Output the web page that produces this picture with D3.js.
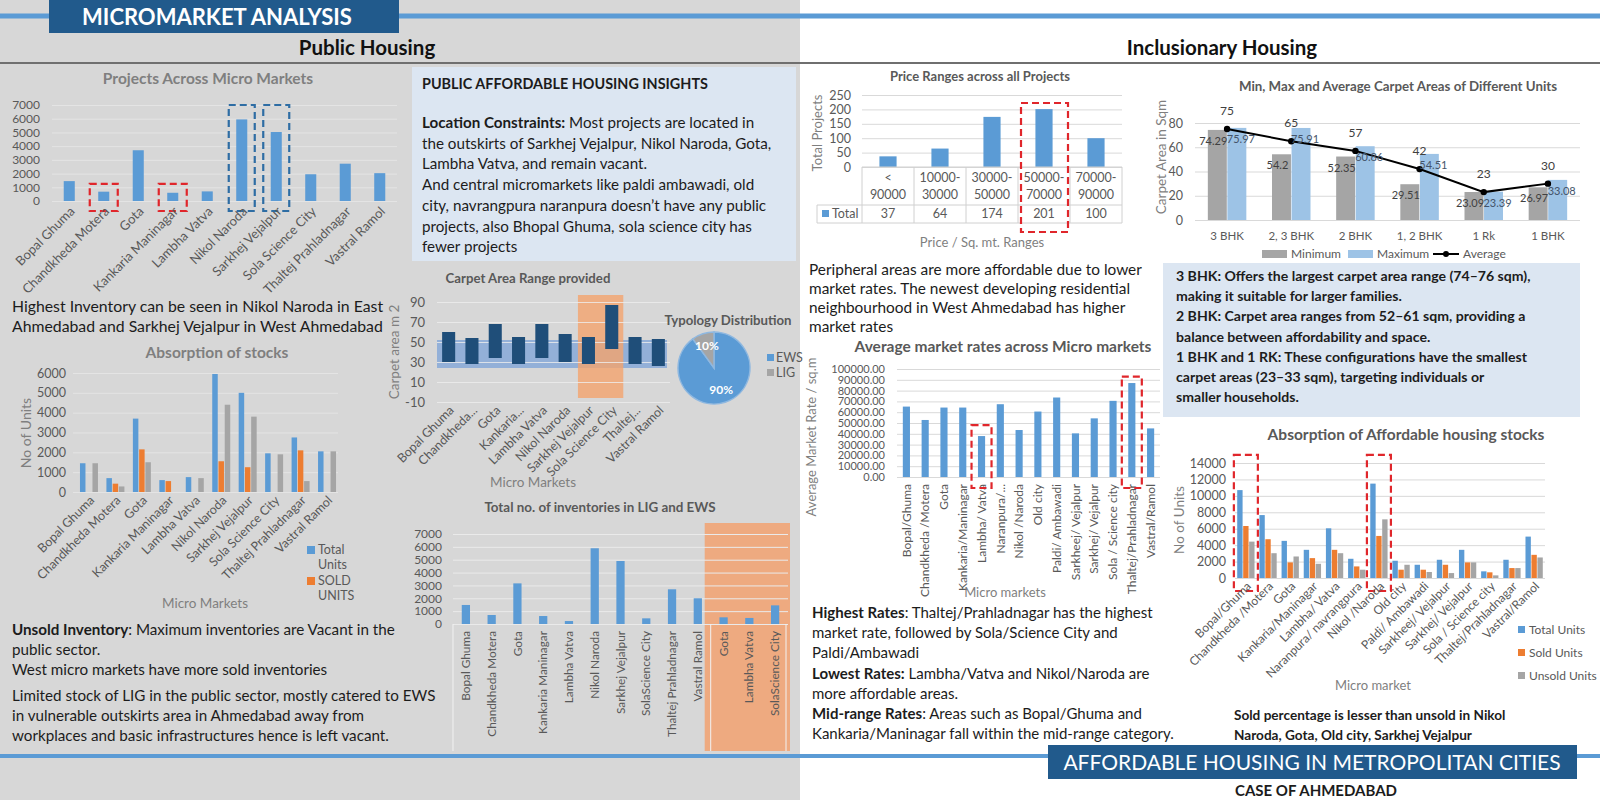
<!DOCTYPE html>
<html><head><meta charset="utf-8">
<script src="https://cdn.jsdelivr.net/npm/d3@7"></script>
<style>body{margin:0;background:#fff}svg{display:block}</style>
</head><body><svg id="c" width="1600" height="800"></svg>
<script>
// ---------------- DATA ----------------
const publicMarkets = ["Bopal Ghuma","Chandkheda  Motera","Gota","Kankaria Maninagar","Lambha Vatva","Nikol Naroda","Sarkhej Vejalpur","Sola Science City","Thaltej Prahladnagar","Vastral Ramol"];
const projectUnits = [1450,680,3700,600,700,5950,5030,1950,2720,2030];
const projectTicks = [0,1000,2000,3000,4000,5000,6000,7000];
const lowProjectMarkets = ["Chandkheda  Motera","Kankaria Maninagar"];
const highProjectMarkets = ["Nikol Naroda","Sarkhej Vejalpur"];

const stockTotal  = [1450,700,3700,600,750,5950,5000,1950,2750,2050];
const stockSold   = [0,420,2150,550,0,1550,1250,0,2100,0];
const stockUnsold = [1450,280,1500,0,700,4400,3800,1900,550,2050];
const stockTicks = [0,1000,2000,3000,4000,5000,6000];

const carpetMarkets = ["Bopal Ghuma","Chandkheda...","Gota","Kankaria...","Lambha Vatva","Nikol Naroda","Sarkhej Vejalpur","Sola Science City","Thaltej...","Vastral Ramol"];
const carpetMin = [30,28,34,28,34,30,28,43,28,26];
const carpetMax = [60,54,68,55,68,58,55,87,55,53];
const carpetTicks = [-10,10,30,50,70,90];
const carpetBand = [24,52];
const carpetHighlight = ["Sarkhej Vejalpur","Sola Science City"];

const typology = ["EWS","LIG"];
const typologyShare = [90,10];

const invMarkets = ["Bopal Ghuma","Chandkheda  Motera","Gota","Kankaria Maninagar","Lambha Vatva","Nikol Naroda","Sarkhej Vejalpur","SolaScience City","Thaltej Prahladnagar","Vastral Ramol","Gota","Lambha Vatva","SolaScience City"];
const invUnits = [1480,700,3160,620,230,5890,4900,440,2700,2000,520,470,1450];
const invTicks = [0,1000,2000,3000,4000,5000,6000,7000];
const invGroupSizes = [10,3];

const priceRanges = [["<","90000"],["10000-","30000"],["30000-","50000"],["50000-","70000"],["70000-","90000"]];
const priceProjects = [37,64,174,201,100];
const priceTicks = [0,50,100,150,200,250];
const priceHighlight = 3;

const unitTypes = ["3 BHK","2, 3 BHK","2 BHK","1, 2 BHK","1 Rk","1 BHK"];
const unitMin = [74.29,54.2,52.35,29.51,23.09,26.97];
const unitMax = [75.97,75.91,60.86,54.51,23.39,33.08];
const unitAvg = [75,65,57,42,23,30];
const unitTicks = [0,20,40,60,80];

const rateMarkets = ["Bopal/Ghuma","Chandkheda /Motera","Gota","Kankaria/Maninagar","Lambha/ Vatva","Naranpura/...","Nikol /Naroda","Old city","Paldi/ Ambawadi","Sarkheej/ Vejalpur","Sarkhej/ Vejalpur","Sola / Science city","Thaltej/Prahladnagar","Vastral/Ramol"];
const rateValues = [65200,52800,64300,64300,37900,67400,43500,60600,73600,40400,54300,70500,87000,45000];
const rateTicks = [0,10000,20000,30000,40000,50000,60000,70000,80000,90000,100000];
const rateHighlight = ["Lambha/ Vatva","Thaltej/Prahladnagar"];

const affMarkets = ["Bopal/Ghuma","Chandkheda /Motera","Gota","Kankaria/Maninagar","Lambha/ Vatva","Naranpura/ navrangpura","Nikol /Naroda","Old city","Paldi/ Ambawadi","Sarkheej/ Vejalpur","Sarkhej/ Vejalpur","Sola / Science city","Thaltej/Prahladnagar","Vastral/Ramol"];
const affTotal  = [10700,7660,4520,3430,6050,2340,11490,2100,1610,2220,3430,810,2220,5040];
const affSold   = [6330,4720,1900,2420,3430,1410,5120,1010,1010,1610,1900,690,1210,2820];
const affUnsold = [4430,3020,2620,1730,3020,1010,7140,1610,730,600,1900,320,1210,2500];
const affTicks = [0,2000,4000,6000,8000,10000,12000,14000];
const affHighlight = ["Bopal/Ghuma","Nikol /Naroda"];

// ---------------- STYLE ----------------
const FONT = "Lato, 'Noto Sans', sans-serif";
const BLUE="#5b9bd5", ORANGE="#ed7d31", GRAY="#a5a5a5", NAVY="#1f4e79", TXT="#595959", DARK="#1c1c1c";
const RED="#e0262b", DBLUE="#2e6da4";
const svg = d3.select("#c").attr("font-family", FONT);

function addText(x, y, s, o={}) {
  return svg.append("text").attr("x",x).attr("y",y).text(s)
    .attr("font-size",o.size||12).attr("font-weight",o.weight||"normal")
    .attr("fill",o.fill||TXT).attr("text-anchor",o.anchor||"start");
}
function addRich(x, y, lh, lines, size, fill) {
  lines.forEach((segs,i)=>{
    const t = svg.append("text").attr("x",x).attr("y",y+i*lh).attr("font-size",size).attr("fill",fill||DARK);
    segs.forEach(s=>t.append("tspan").attr("font-weight", s.b?"bold":"normal").text(s.t));
  });
}
function yAxisGrid(scale, ticks, x0, x1, labelRight, fmt, size, gridColor) {
  const g = svg.append("g").attr("transform",`translate(${x0},0)`)
    .call(d3.axisLeft(scale).tickValues(ticks).tickSize(-(x1-x0)).tickPadding(x0-labelRight).tickFormat(fmt));
  g.attr("font-family",FONT).attr("font-size",size);
  g.select(".domain").remove();
  g.selectAll(".tick line").attr("stroke",gridColor);
  g.selectAll(".tick text").attr("fill",TXT);
  return g;
}
function rotLabels(items, xf, y, angle, size, dx, clipId) {
  const g = svg.append("g");
  if (clipId) g.attr("clip-path",`url(#${clipId})`);
  g.selectAll("text").data(items).join("text")
    .attr("transform",(d,i)=>`translate(${xf(d,i)+dx},${y}) rotate(${angle})`)
    .attr("text-anchor","end").attr("dy","0.35em").attr("font-size",size).attr("fill",TXT)
    .text(d=>d);
  return g;
}
function rotTitle(x, y, s, size) {
  svg.append("text").attr("transform",`translate(${x},${y}) rotate(-90)`).attr("text-anchor","middle")
    .attr("font-size",size).attr("fill","#7f7f7f").text(s);
}
function dashBox(x0,x1,y0,y1,color) {
  svg.append("rect").attr("x",x0).attr("y",y0).attr("width",x1-x0).attr("height",y1-y0)
    .attr("fill","none").attr("stroke",color).attr("stroke-width",2.2).attr("stroke-dasharray","7,4");
}

// ---------------- BACKGROUND / FRAME ----------------
svg.append("rect").attr("width",1600).attr("height",800).attr("fill","#ffffff");
svg.append("rect").attr("width",800).attr("height",800).attr("fill","#d7d7d7");
svg.append("line").attr("x1",0).attr("x2",1600).attr("y1",16).attr("y2",16).attr("stroke",BLUE).attr("stroke-width",5);
svg.append("rect").attr("x",49).attr("y",0).attr("width",350).attr("height",33).attr("fill","#215a8c");
addText(217,25,"MICROMARKET ANALYSIS",{size:22,weight:"bold",fill:"#fff",anchor:"middle"});
svg.append("line").attr("x1",0).attr("x2",1600).attr("y1",63).attr("y2",63).attr("stroke","#6f6f6f").attr("stroke-width",2);
addText(367,55,"Public Housing",{size:20.5,weight:"bold",fill:"#111",anchor:"middle"});
addText(1222,55,"Inclusionary Housing",{size:20.5,weight:"bold",fill:"#111",anchor:"middle"});

// ---------------- Projects Across Micro Markets ----------------
{
  const x = d3.scaleBand().domain(publicMarkets).range([52,397]).paddingInner(0.68).paddingOuter(0.34);
  const y = d3.scaleLinear().domain([0,7000]).range([201,105]);
  addText(208,84,"Projects Across Micro Markets",{size:15.5,weight:"bold",fill:"#7f7f7f",anchor:"middle"});
  yAxisGrid(y, projectTicks, 52, 397, 40, d=>d, 12, "#e4e4e4");
  svg.append("g").selectAll("rect").data(projectUnits).join("rect")
    .attr("x",(d,i)=>x(publicMarkets[i])).attr("width",x.bandwidth())
    .attr("y",d=>y(d)).attr("height",d=>y(0)-y(d)).attr("fill",BLUE);
  lowProjectMarkets.forEach(m=>{const c=x(m)+x.bandwidth()/2; dashBox(c-14,c+14,y(1250),y(0)+10,RED);});
  highProjectMarkets.forEach(m=>{const c=x(m)+x.bandwidth()/2; dashBox(c-13,c+13,y(7000),y(0)+10,DBLUE);});
  rotLabels(publicMarkets,d=>x(d)+x.bandwidth()/2,209,-45,13,3);
}

// ---------------- Left text 1 ----------------
addRich(12,312,19.5,[[{t:"Highest Inventory can be seen in Nikol Naroda in East"}],[{t:"Ahmedabad and Sarkhej Vejalpur in West Ahmedabad"}]],15.8);

// ---------------- Absorption of stocks ----------------
{
  const x = d3.scaleBand().domain(publicMarkets).range([76,340]).paddingInner(0.32).paddingOuter(0.15);
  const xs = d3.scaleBand().domain([0,1,2]).range([0,x.bandwidth()]).paddingInner(0.12);
  const y = d3.scaleLinear().domain([0,6000]).range([492,373]);
  addText(217,358,"Absorption of stocks",{size:15.5,weight:"bold",fill:"#7f7f7f",anchor:"middle"});
  yAxisGrid(y, stockTicks, 73, 338, 66, d=>d, 12.5, "#e4e4e4");
  rotTitle(31,433,"No of Units",14);
  const series=[stockTotal,stockSold,stockUnsold], cols=[BLUE,ORANGE,GRAY];
  series.forEach((s,k)=>{
    svg.append("g").selectAll("rect").data(s).join("rect")
      .attr("x",(d,i)=>x(publicMarkets[i])+xs(k)).attr("width",xs.bandwidth())
      .attr("y",d=>y(d)).attr("height",d=>y(0)-y(d)).attr("fill",cols[k]);
  });
  rotLabels(publicMarkets,d=>x(d)+x.bandwidth()/2,498,-45,12.5,3);
  addText(205,608,"Micro Markets",{size:13.5,fill:"#7f7f7f",anchor:"middle"});
  const lg=[["Total","Units",BLUE],["SOLD","UNITS",ORANGE]];
  lg.forEach((l,i)=>{
    svg.append("rect").attr("x",307).attr("y",546+i*31).attr("width",8).attr("height",8).attr("fill",l[2]);
    addText(318,554+i*31,l[0],{size:12.5});
    addText(318,569+i*31,l[1],{size:12.5});
  });
}

// ---------------- Left text 2 ----------------
addRich(12,635,20,[
  [{t:"Unsold Inventory",b:true},{t:": Maximum  inventories are Vacant in the"}],
  [{t:"public sector."}],
  [{t:"West micro markets have more sold inventories"}]],15.2);
addRich(12,701,20,[
  [{t:"Limited stock of LIG in the public sector, mostly catered to EWS"}],
  [{t:"in vulnerable outskirts area in Ahmedabad away from"}],
  [{t:"workplaces and basic infrastructures hence is left vacant."}]],15.2);

// ---------------- Insights box ----------------
svg.append("rect").attr("x",412).attr("y",67).attr("width",384).attr("height",194).attr("fill","#dce6f2");
addText(422,89,"PUBLIC AFFORDABLE HOUSING INSIGHTS",{size:14.4,weight:"bold",fill:DARK});
addRich(422,128,20.7,[
  [{t:"Location Constraints:",b:true},{t:" Most projects are located in"}],
  [{t:"the outskirts of Sarkhej Vejalpur, Nikol Naroda, Gota,"}],
  [{t:"Lambha Vatva, and remain vacant."}],
  [{t:"And central micromarkets like paldi ambawadi, old"}],
  [{t:"city, navrangpura naranpura doesn\u2019t have any public"}],
  [{t:"projects, also Bhopal Ghuma, sola science city has"}],
  [{t:"fewer projects"}]],15.2);

// ---------------- Carpet Area Range provided ----------------
{
  const x = d3.scaleBand().domain(carpetMarkets).range([437,670]).paddingInner(0.44).paddingOuter(0.22);
  const y = d3.scaleLinear().domain([-10,90]).range([402,302]);
  addText(528,283,"Carpet Area Range provided",{size:13.2,weight:"bold",fill:TXT,anchor:"middle"});
  svg.append("rect").attr("x",437).attr("width",230).attr("y",y(carpetBand[1])).attr("height",y(carpetBand[0])-y(carpetBand[1]))
    .attr("fill","#5b8fd8").attr("opacity",0.55);
  const hx0 = x(carpetHighlight[0]) - 4, hx1 = x(carpetHighlight[1]) + x.bandwidth() + 5;
  svg.append("rect").attr("x",hx0).attr("width",hx1-hx0).attr("y",y(97)).attr("height",y(-6)-y(97))
    .attr("fill","#f4a46e").attr("opacity",0.8);
  const ga = yAxisGrid(y, carpetTicks, 437, 670, 425, d=>d, 13, "#ededed");
  ga.selectAll(".tick line").attr("stroke-opacity",0.8);
  rotTitle(399,352,"Carpet area m 2",13.5);
  svg.append("g").selectAll("rect").data(carpetMin).join("rect")
    .attr("x",(d,i)=>x(carpetMarkets[i])).attr("width",x.bandwidth())
    .attr("y",(d,i)=>y(carpetMax[i])).attr("height",(d,i)=>y(d)-y(carpetMax[i])).attr("fill",NAVY);
  rotLabels(carpetMarkets,d=>x(d)+x.bandwidth()/2,408,-45,12.5,3);
  addText(533,487,"Micro Markets",{size:13.5,fill:"#7f7f7f",anchor:"middle"});
}

// ---------------- Typology Distribution ----------------
{
  addText(728,325,"Typology Distribution",{size:13.2,weight:"bold",fill:TXT,anchor:"middle"});
  const pie = d3.pie().sort(null).value(d=>d)(typologyShare);
  const arc = d3.arc().innerRadius(0).outerRadius(36);
  const lab = d3.arc().innerRadius(23).outerRadius(23);
  const g = svg.append("g").attr("transform","translate(714,368)");
  g.selectAll("path").data(pie).join("path").attr("d",arc).attr("fill",(d,i)=>[BLUE,GRAY][i])
    .attr("stroke","#8fb8e0").attr("stroke-width",1.5);
  g.selectAll("text").data(pie).join("text").attr("transform",d=>`translate(${lab.centroid(d)})`)
    .attr("text-anchor","middle").attr("dy","0.35em").attr("font-size",12).attr("font-weight","bold").attr("fill","#fff")
    .text(d=>d.data+"%");
  typology.forEach((t,i)=>{
    svg.append("rect").attr("x",767).attr("y",354+i*15).attr("width",7).attr("height",7).attr("fill",[BLUE,GRAY][i]);
    addText(776,362+i*15,t,{size:12.5});
  });
}

// ---------------- Total no. of inventories in LIG and EWS ----------------
{
  const idx = d3.range(invMarkets.length);
  const x = d3.scaleBand().domain(idx).range([453,788]).paddingInner(0.68).paddingOuter(0.34);
  const y = d3.scaleLinear().domain([0,7000]).range([624,534]);
  addText(600,512,"Total no. of inventories in LIG and EWS",{size:13.4,weight:"bold",fill:TXT,anchor:"middle"});
  const s2 = invGroupSizes[0];
  const hx0 = x(s2) - x.step()*x.paddingInner()/2 - 6;
  svg.append("rect").attr("x",hx0).attr("width",790-hx0).attr("y",523).attr("height",228).attr("fill","#eeaa80");
  yAxisGrid(y, invTicks, 453, 788, 442, d=>d, 12, "#eaeaea");
  const bx = [453, x(s2) - x.step()*x.paddingInner()/2, 786];
  bx.forEach(v=>svg.append("line").attr("x1",v).attr("x2",v).attr("y1",624).attr("y2",751).attr("stroke","#f2f2f2"));
  svg.append("g").selectAll("rect").data(invUnits).join("rect")
    .attr("x",(d,i)=>x(i)).attr("width",x.bandwidth())
    .attr("y",d=>y(d)).attr("height",d=>y(0)-y(d)).attr("fill",BLUE);
  rotLabels(invMarkets,(d,i)=>x(i)+x.bandwidth()/2,631,-90,11.8,0);
}

// ---------------- Price Ranges across all Projects ----------------
{
  const idx = d3.range(priceProjects.length);
  const x = d3.scaleBand().domain(idx).range([862,1122]).paddingInner(0.67).paddingOuter(0.335);
  const y = d3.scaleLinear().domain([0,250]).range([167,95]);
  addText(980,81,"Price Ranges across all Projects",{size:13,weight:"bold",fill:TXT,anchor:"middle"});
  yAxisGrid(y, priceTicks, 862, 1122, 851, d=>d, 12.5, "#d9d9d9");
  rotTitle(822,133,"Total Projects",13);
  svg.append("g").selectAll("rect").data(priceProjects).join("rect")
    .attr("x",(d,i)=>x(i)).attr("width",x.bandwidth())
    .attr("y",d=>y(d)).attr("height",d=>y(0)-y(d)).attr("fill",BLUE);
  const tc = "#d0d0d0";
  const step = x.step();
  svg.append("line").attr("x1",862).attr("x2",1122).attr("y1",167).attr("y2",167).attr("stroke",tc);
  svg.append("line").attr("x1",817).attr("x2",1122).attr("y1",205).attr("y2",205).attr("stroke",tc);
  svg.append("line").attr("x1",817).attr("x2",1122).attr("y1",223).attr("y2",223).attr("stroke",tc);
  svg.append("line").attr("x1",817).attr("x2",817).attr("y1",205).attr("y2",223).attr("stroke",tc);
  d3.range(priceProjects.length+1).forEach(i=>svg.append("line").attr("x1",862+i*step).attr("x2",862+i*step).attr("y1",167).attr("y2",223).attr("stroke",tc));
  priceRanges.forEach((r,i)=>{
    const c = x(i)+x.bandwidth()/2;
    addText(c,182,r[0],{size:12.5,anchor:"middle"});
    addText(c,199,r[1],{size:12.5,anchor:"middle"});
    addText(c,218,priceProjects[i],{size:12.5,anchor:"middle"});
  });
  svg.append("rect").attr("x",822).attr("y",210).attr("width",7).attr("height",7).attr("fill",BLUE);
  addText(832,218,"Total",{size:12.5});
  const hc = x(priceHighlight)+x.bandwidth()/2;
  dashBox(hc-23,hc+24,103,232,RED);
  addText(982,247,"Price / Sq. mt. Ranges",{size:13,fill:"#7f7f7f",anchor:"middle"});
}

addRich(809,275,19,[
  [{t:"Peripheral areas are more affordable due to lower"}],
  [{t:"market rates. The newest developing residential"}],
  [{t:"neighbourhood in West Ahmedabad has higher"}],
  [{t:"market rates"}]],15.4);

// ---------------- Min, Max and Average Carpet Areas ----------------
{
  svg.append("clipPath").attr("id","clipR").append("rect").attr("x",1100).attr("y",60).attr("width",482).attr("height",200);
  const x = d3.scaleBand().domain(unitTypes).range([1195,1580]).paddingInner(0.4).paddingOuter(0.2);
  const xs = d3.scaleBand().domain([0,1]).range([0,x.bandwidth()]).paddingInner(0.03);
  const y = d3.scaleLinear().domain([0,80]).range([220,123]);
  addText(1398,91,"Min, Max and Average Carpet Areas of Different Units",{size:13.3,weight:"bold",fill:TXT,anchor:"middle"});
  yAxisGrid(y, unitTicks, 1195, 1580, 1183, d=>d, 12.5, "#d9d9d9");
  rotTitle(1166,157,"Carpet Area in Sqm",13.5);
  const g = svg.append("g").attr("clip-path","url(#clipR)");
  [[unitMin,GRAY],[unitMax,"#9dc3e6"]].forEach(([s,c],k)=>{
    g.append("g").selectAll("rect").data(s).join("rect")
      .attr("x",(d,i)=>x(unitTypes[i])+xs(k)).attr("width",xs.bandwidth())
      .attr("y",d=>y(d)).attr("height",d=>y(0)-y(d)).attr("fill",c);
  });
  const line = d3.line().x((d,i)=>x(unitTypes[i])+x.bandwidth()/2).y(d=>y(d));
  g.append("path").attr("d",line(unitAvg)).attr("fill","none").attr("stroke","#000").attr("stroke-width",2);
  g.selectAll("circle").data(unitAvg).join("circle").attr("cx",(d,i)=>x(unitTypes[i])+x.bandwidth()/2).attr("cy",d=>y(d)).attr("r",3.2).attr("fill","#000");
  [[unitMin,"#404040",-4],[unitMax,"#44546a",4]].forEach(([s,c,sh],k)=>{
    g.append("g").selectAll("text").data(s).join("text")
      .attr("x",(d,i)=>x(unitTypes[i])+xs(k)+xs.bandwidth()/2+sh).attr("y",d=>y(d)+15)
      .attr("text-anchor","middle").attr("font-size",11).attr("fill",c).text(d=>d);
  });
  g.append("g").selectAll("text").data(unitAvg).join("text")
    .attr("x",(d,i)=>x(unitTypes[i])+x.bandwidth()/2).attr("y",d=>y(d)-14)
    .attr("text-anchor","middle").attr("font-size",12).attr("fill","#404040").text(d=>d);
  unitTypes.forEach(t=>addText(x(t)+x.bandwidth()/2,240,t,{size:11.5,anchor:"middle"}));
  svg.append("rect").attr("x",1262).attr("y",250).attr("width",25).attr("height",8).attr("fill",GRAY);
  addText(1291,258,"Minimum",{size:12});
  svg.append("rect").attr("x",1348).attr("y",250).attr("width",25).attr("height",8).attr("fill","#9dc3e6");
  addText(1377,258,"Maximum",{size:12});
  svg.append("line").attr("x1",1433).attr("x2",1459).attr("y1",254).attr("y2",254).attr("stroke","#000").attr("stroke-width",2);
  svg.append("circle").attr("cx",1446).attr("cy",254).attr("r",3).attr("fill","#000");
  addText(1463,258,"Average",{size:12});
}

// ---------------- Right text box ----------------
svg.append("rect").attr("x",1163).attr("y",263).attr("width",417).attr("height",154).attr("fill","#dce6f2");
addRich(1176,281,20.2,[
  [{t:"3 BHK: Offers the largest carpet area range (74\u201376 sqm),",b:true}],
  [{t:"making it suitable for larger families.",b:true}],
  [{t:"2 BHK: Carpet area ranges from 52\u201361 sqm, providing a",b:true}],
  [{t:"balance between affordability and space.",b:true}],
  [{t:"1 BHK and 1 RK: These configurations have the smallest",b:true}],
  [{t:"carpet areas (23\u201333 sqm), targeting individuals or",b:true}],
  [{t:"smaller households.",b:true}]],14.1);

// ---------------- Average market rates ----------------
{
  const x = d3.scaleBand().domain(rateMarkets).range([897,1160]).paddingInner(0.62).paddingOuter(0.31);
  const y = d3.scaleLinear().domain([0,100000]).range([477,369]);
  addText(1003,352,"Average market rates across Micro markets",{size:15.5,weight:"bold",fill:TXT,anchor:"middle"});
  yAxisGrid(y, rateTicks, 897, 1160, 885, d3.format(".2f"), 11, "#d9d9d9");
  rotTitle(816,437,"Average Market Rate / sq.m",13);
  svg.append("g").selectAll("rect").data(rateValues).join("rect")
    .attr("x",(d,i)=>x(rateMarkets[i])).attr("width",x.bandwidth())
    .attr("y",d=>y(d)).attr("height",d=>y(0)-y(d)).attr("fill",BLUE);
  svg.append("clipPath").attr("id","clipRate").append("rect").attr("x",880).attr("y",470).attr("width",300).attr("height",128);
  rotLabels(rateMarkets,d=>x(d)+x.bandwidth()/2,484,-90,12,0,"clipRate");
  rateHighlight.forEach((m,k)=>{const c=x(m)+x.bandwidth()/2; dashBox(c-10,c+10,y(k?93000:48000),y(0)+11,RED);});
  addText(1005,597,"Micro markets",{size:13,fill:"#7f7f7f",anchor:"middle"});
}

addRich(812,618,20.2,[
  [{t:"Highest Rates",b:true},{t:": Thaltej/Prahladnagar has the highest"}],
  [{t:"market rate, followed by Sola/Science City  and"}],
  [{t:"Paldi/Ambawadi"}],
  [{t:"Lowest Rates:",b:true},{t:" Lambha/Vatva and Nikol/Naroda are"}],
  [{t:"more affordable areas."}],
  [{t:"Mid-range Rates",b:true},{t:": Areas such as Bopal/Ghuma and"}],
  [{t:"Kankaria/Maninagar fall within the mid-range category."}]],15);

// ---------------- Absorption of Affordable housing stocks ----------------
{
  const x = d3.scaleBand().domain(affMarkets).range([1235,1545]).paddingInner(0.22).paddingOuter(0.1);
  const xs = d3.scaleBand().domain([0,1,2]).range([0,x.bandwidth()]).paddingInner(0.1);
  const y = d3.scaleLinear().domain([0,14000]).range([578,463]);
  addText(1406,440,"Absorption of Affordable housing stocks",{size:15.5,weight:"bold",fill:TXT,anchor:"middle"});
  yAxisGrid(y, affTicks, 1235, 1545, 1226, d=>d, 12.5, "#d9d9d9");
  rotTitle(1184,520,"No of Units",13.5);
  const cols=[BLUE,ORANGE,GRAY];
  [affTotal,affSold,affUnsold].forEach((s,k)=>{
    svg.append("g").selectAll("rect").data(s).join("rect")
      .attr("x",(d,i)=>x(affMarkets[i])+xs(k)).attr("width",xs.bandwidth())
      .attr("y",d=>y(d)).attr("height",d=>y(0)-y(d)).attr("fill",cols[k]);
  });
  affHighlight.forEach(m=>{const c=x(m)+x.bandwidth()/2; dashBox(c-12,c+12,y(15000),y(0)+13,RED);});
  rotLabels(affMarkets,d=>x(d)+x.bandwidth()/2,584,-45,12,3);
  addText(1373,690,"Micro market",{size:13,fill:"#7f7f7f",anchor:"middle"});
  ["Total Units","Sold Units","Unsold Units"].forEach((t,i)=>{
    svg.append("rect").attr("x",1518).attr("y",626+i*23).attr("width",7).attr("height",7).attr("fill",cols[i]);
    addText(1529,634+i*23,t,{size:12});
  });
}
addRich(1234,720,20,[
  [{t:"Sold percentage is lesser than unsold in Nikol",b:true}],
  [{t:"Naroda, Gota, Old city, Sarkhej Vejalpur",b:true}]],13.6);

// ---------------- Footer ----------------
svg.append("line").attr("x1",0).attr("x2",1600).attr("y1",756).attr("y2",756).attr("stroke",BLUE).attr("stroke-width",4);
svg.append("rect").attr("x",1048).attr("y",745).attr("width",529).attr("height",34).attr("fill","#215a8c");
addText(1312,770,"AFFORDABLE HOUSING IN METROPOLITAN CITIES",{size:21,fill:"#fff",anchor:"middle"});
addText(1316,796,"CASE OF AHMEDABAD",{size:15,weight:"bold",fill:"#1c1c1c",anchor:"middle"});
</script></body></html>
